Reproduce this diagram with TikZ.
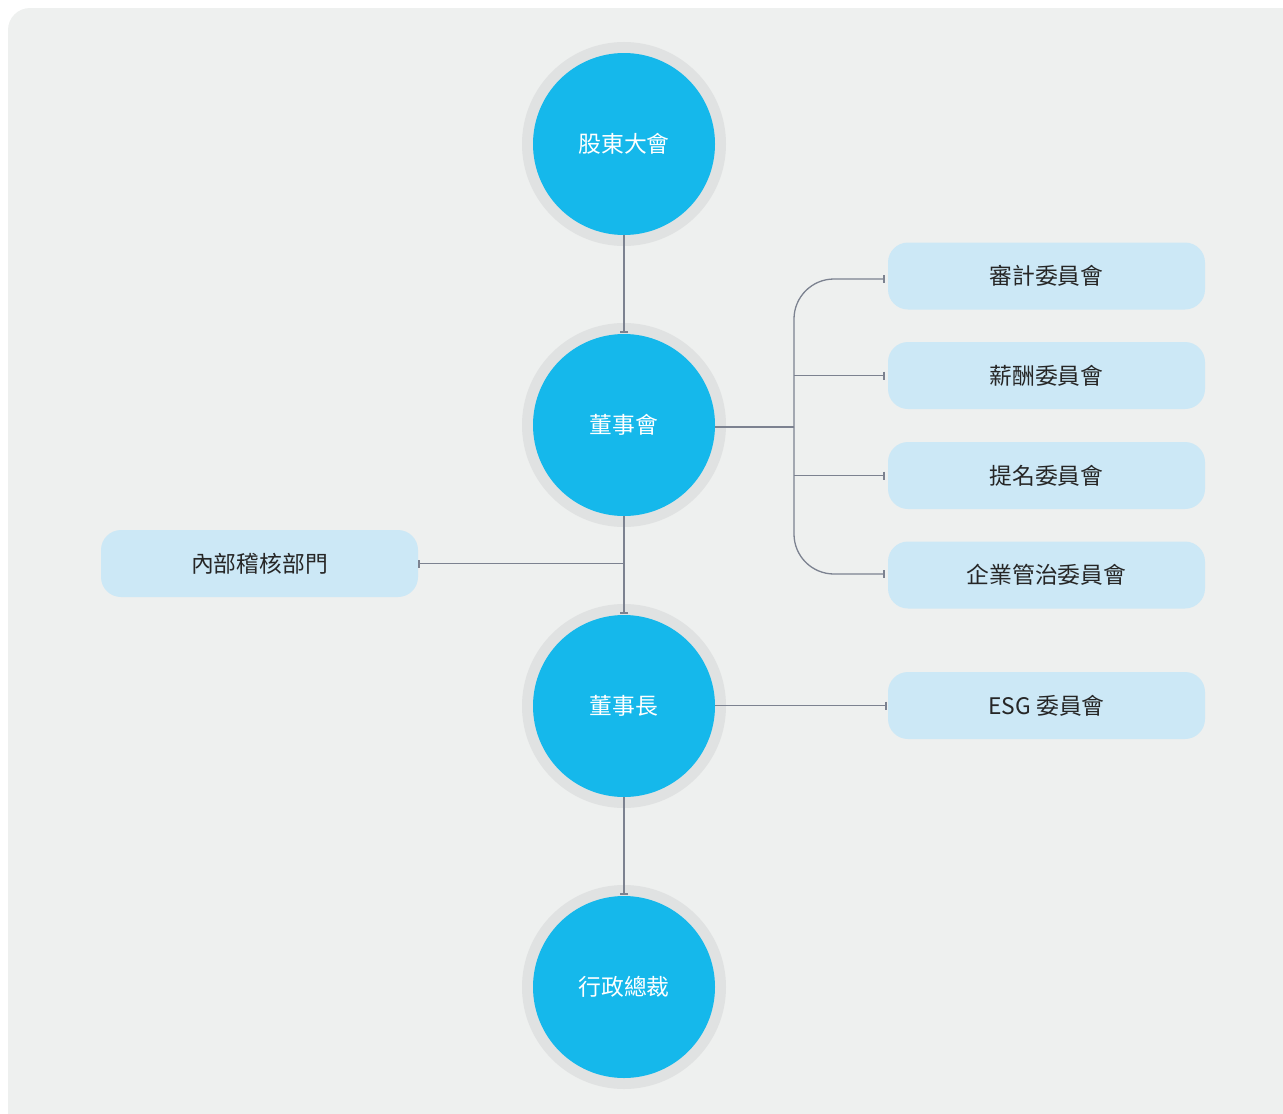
\documentclass[tikz,border=0pt]{standalone}
\usepackage{fontspec}
\newfontfamily\cjk{Noto Sans CJK TC}
\usetikzlibrary{arrows.meta}
\definecolor{bgc}{HTML}{EEF0EF}
\definecolor{ringc}{HTML}{E0E2E2}
\definecolor{blue}{HTML}{15B8EB}
\definecolor{boxc}{HTML}{CCE8F6}
\definecolor{linec}{HTML}{7C8290}
\definecolor{txt}{HTML}{262626}
\tikzset{
  circ/.style={circle, minimum size=182pt, inner sep=0pt, outer sep=0pt, fill=blue,
    preaction={draw=ringc, line width=22pt}, text=white,
    font=\cjk\fontsize{22.8}{27}\selectfont},
  rbox/.style={rectangle, rounded corners=20pt, minimum width=317pt, minimum height=67pt,
    inner sep=0pt, outer sep=0pt, fill=boxc, text=txt,
    font=\cjk\fontsize{22.8}{27}\selectfont},
  conn/.style={draw=linec, line width=1.3pt, -{Bar[width=8pt,line width=1.6pt]}},
  plain/.style={draw=linec, line width=1.3pt}
}
\begin{document}
\begin{tikzpicture}[x=1pt,y=-1pt]
\useasboundingbox (0,0) rectangle (1283,1114);
\clip (0,0) rectangle (1283,1114);
\fill[bgc, rounded corners=22pt] (8,8) rectangle (1310,1140);

\node[circ] (c1) at (624,144) {股東大會};
\node[circ] (c2) at (624,425) {董事會};
\node[circ] (c3) at (624,706) {董事長};
\node[circ] (c4) at (624,987) {行政總裁};

\node[rbox] (b1) at (1046.5,276) {審計委員會};
\node[rbox] (b2) at (1046.5,375.5) {薪酬委員會};
\node[rbox] (b3) at (1046.5,475.5) {提名委員會};
\node[rbox] (b4) at (1046.5,575) {企業管治委員會};
\node[rbox] (b5) at (1046.5,705.5) {ESG 委員會};
\node[rbox] (lb) at (259.5,563.5) {內部稽核部門};

\coordinate (j) at (794,427);
\coordinate (k) at (624,563.5);

\draw[conn, shorten >=1pt] (c1.south) -- (c2.north);
\draw[conn, shorten >=1pt] (c2.south) -- (c3.north);
\draw[conn, shorten >=1pt] (c3.south) -- (c4.north);
\draw[conn] (k) -- (lb.east);

\draw[plain] (c2.east |- j) -- (j);
\draw[conn, rounded corners=40pt, shorten >=3pt] (j) |- ([yshift=-3pt]b1.west);
\draw[conn, rounded corners=40pt, shorten >=3pt] (j) |- ([yshift=1pt]b4.west);
\draw[conn, shorten >=3pt] (j |- b2.west) -- (b2.west);
\draw[conn, shorten >=3pt] (j |- b3.west) -- (b3.west);
\draw[conn, shorten >=1pt] (c3.east |- b5.west) -- (b5.west);
\end{tikzpicture}
\end{document}
